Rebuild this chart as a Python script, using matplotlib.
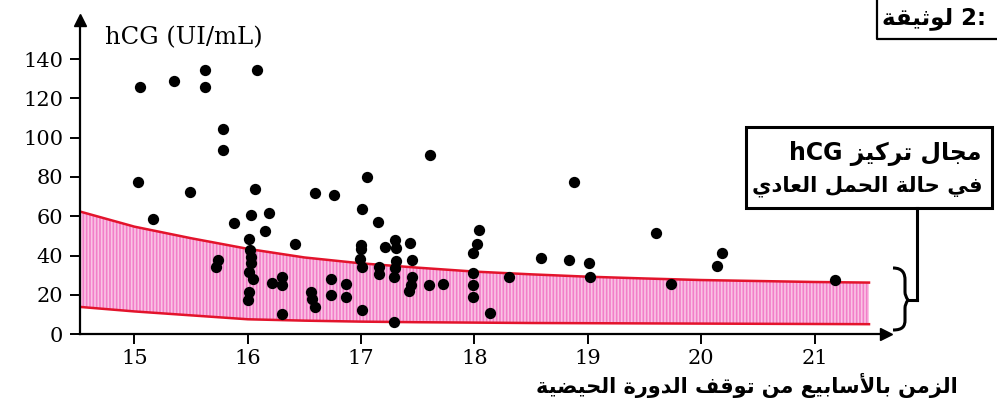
import matplotlib
matplotlib.use("Agg")
import matplotlib.pyplot as plt
from matplotlib.patches import Rectangle, PathPatch
from matplotlib.path import Path
from matplotlib.lines import Line2D

# ---------------- data ----------------
weeks = [15.05, 15.35, 15.62, 15.62, 15.78, 15.78, 16.08, 15.03, 15.49, 16.06,
         16.59, 16.76, 15.16, 15.88, 16.03, 16.19, 16.15, 16.42, 16.01, 16.02,
         16.03, 16.03, 16.01, 16.05, 15.74, 15.72, 16.21, 16.30, 16.30, 16.01,
         16.00, 16.30, 16.56, 16.57, 16.59, 16.73, 16.73, 16.87, 16.87, 17.05,
         17.01, 17.15, 17.61, 18.88, 17.00, 17.00, 17.21, 17.30, 17.31, 17.43,
         16.99, 17.01, 17.16, 17.16, 17.31, 17.30, 17.29, 17.45, 17.45, 17.44,
         17.42, 17.60, 17.72, 17.01, 17.29, 18.04, 18.02, 17.99, 17.99, 17.99,
         17.99, 18.30, 18.14, 18.59, 18.83, 19.01, 19.02, 19.60, 19.73, 20.18,
         20.14, 21.18]
hcg = [125.7, 128.7, 134.3, 125.9, 104.4, 93.7, 134.7, 77.2, 72.3, 74.0,
       72.1, 70.6, 58.7, 56.5, 60.4, 61.6, 52.6, 45.9, 48.3, 42.9,
       39.4, 36.1, 31.8, 28.1, 37.8, 34.0, 26.2, 29.2, 25.0, 21.3,
       17.3, 10.2, 21.6, 17.9, 13.6, 28.1, 19.9, 25.5, 19.0, 80.0,
       63.8, 57.0, 91.0, 77.2, 45.4, 43.2, 44.2, 48.0, 43.7, 46.3,
       38.1, 34.0, 34.0, 30.5, 37.2, 33.5, 29.2, 37.8, 28.9, 25.0,
       21.9, 25.0, 25.4, 12.2, 6.3, 53.0, 45.8, 41.2, 31.3, 25.0,
       18.7, 29.2, 10.5, 38.5, 37.8, 36.0, 28.9, 51.7, 25.5, 41.2,
       34.7, 27.6]

band_weeks = [14.52, 15.0, 15.5, 16.0, 16.5, 17.0, 17.5, 18.0, 18.5, 19.0,
              19.5, 20.0, 20.5, 21.0, 21.48]
band_upper = [62.4, 54.7, 48.8, 43.4, 39.0, 36.0, 33.8, 31.8, 30.4, 29.2,
              28.3, 27.5, 27.0, 26.5, 26.2]
band_lower = [13.8, 11.5, 9.5, 7.5, 6.8, 6.3, 6.0, 5.8, 5.6, 5.5,
              5.4, 5.3, 5.2, 5.1, 5.0]

x_ticks = [15, 16, 17, 18, 19, 20, 21]
y_ticks = [0, 20, 40, 60, 80, 100, 120, 140]

y_label = "hCG (UI/mL)"
x_label_ar = "الزمن بالأسابيع من توقف الدورة الحيضية"
legend_line1 = "مجال تركيز hCG"
legend_line2 = "في حالة الحمل العادي"
doc_label = "لوثيقة 2:"

# ---------------- minimal Arabic shaping (presentation forms) ----------------
FORMS = {
    '\u0627': ('\uFE8D', '\uFE8E', None, None),
    '\u0623': ('\uFE83', '\uFE84', None, None),
    '\u0628': ('\uFE8F', '\uFE90', '\uFE91', '\uFE92'),
    '\u0629': ('\uFE93', '\uFE94', None, None),
    '\u062A': ('\uFE95', '\uFE96', '\uFE97', '\uFE98'),
    '\u062B': ('\uFE99', '\uFE9A', '\uFE9B', '\uFE9C'),
    '\u062C': ('\uFE9D', '\uFE9E', '\uFE9F', '\uFEA0'),
    '\u062D': ('\uFEA1', '\uFEA2', '\uFEA3', '\uFEA4'),
    '\u062F': ('\uFEA9', '\uFEAA', None, None),
    '\u0631': ('\uFEAD', '\uFEAE', None, None),
    '\u0632': ('\uFEAF', '\uFEB0', None, None),
    '\u0633': ('\uFEB1', '\uFEB2', '\uFEB3', '\uFEB4'),
    '\u0636': ('\uFEBD', '\uFEBE', '\uFEBF', '\uFEC0'),
    '\u0639': ('\uFEC9', '\uFECA', '\uFECB', '\uFECC'),
    '\u0641': ('\uFED1', '\uFED2', '\uFED3', '\uFED4'),
    '\u0642': ('\uFED5', '\uFED6', '\uFED7', '\uFED8'),
    '\u0643': ('\uFED9', '\uFEDA', '\uFEDB', '\uFEDC'),
    '\u0644': ('\uFEDD', '\uFEDE', '\uFEDF', '\uFEE0'),
    '\u0645': ('\uFEE1', '\uFEE2', '\uFEE3', '\uFEE4'),
    '\u0646': ('\uFEE5', '\uFEE6', '\uFEE7', '\uFEE8'),
    '\u0647': ('\uFEE9', '\uFEEA', '\uFEEB', '\uFEEC'),
    '\u0648': ('\uFEED', '\uFEEE', None, None),
    '\u064A': ('\uFEF1', '\uFEF2', '\uFEF3', '\uFEF4'),
    'LA': ('\uFEFB', '\uFEFC', None, None),
    'LAH': ('\uFEF7', '\uFEF8', None, None),
}


def shape_word(w):
    toks = []
    i = 0
    while i < len(w):
        c = w[i]
        if c == '\u0644' and i + 1 < len(w) and w[i + 1] in ('\u0627', '\u0623'):
            toks.append('LA' if w[i + 1] == '\u0627' else 'LAH')
            i += 2
        else:
            toks.append(c)
            i += 1
    out = []
    for k, t in enumerate(toks):
        f = FORMS.get(t)
        if f is None:
            out.append(t)
            continue
        prev = FORMS.get(toks[k - 1]) if k > 0 else None
        nxt = FORMS.get(toks[k + 1]) if k + 1 < len(toks) else None
        jp = prev is not None and prev[2] is not None
        jn = nxt is not None and f[2] is not None
        if jp and jn:
            g = f[3]
        elif jp:
            g = f[1]
        elif jn:
            g = f[2]
        else:
            g = f[0]
        out.append(g)
    return ''.join(out)


def ar(text, rtl=True):
    vis = []
    for w in text.split(' '):
        if any('\u0600' <= c <= '\u06FF' for c in w):
            vis.append(shape_word(w)[::-1])
        else:
            vis.append(w)
    if rtl:
        vis = vis[::-1]
    return ' '.join(vis)


# ---------------- figure ----------------
W, H = 997, 405
fig = plt.figure(figsize=(W / 100, H / 100), dpi=100)
fig.patch.set_facecolor('white')


def fx(x):
    return x / W


def fy(y):
    return 1 - y / H


ax = fig.add_axes([fx(80), fy(334), (886 - 80) / W, (334 - 20) / H])
ax.set_xlim(14.52, 21.63)
ax.set_ylim(0, 160)

plt.rcParams['hatch.linewidth'] = 1.2
ax.fill_between(band_weeks, band_lower, band_upper, facecolor='#f27ec9',
                edgecolor='#fac4e4', hatch='|||||', linewidth=0, zorder=1)
ax.plot(band_weeks, band_upper, color='#e3142c', lw=1.8, zorder=2)
ax.plot(band_weeks, band_lower, color='#e3142c', lw=1.8, zorder=2)

ax.scatter(weeks, hcg, s=66, color='black', zorder=3, linewidths=0)

for s in ['top', 'right']:
    ax.spines[s].set_visible(False)
for s in ['left', 'bottom']:
    ax.spines[s].set_linewidth(1.6)
    ax.spines[s].set_color('black')
ax.plot(0, 1, marker='^', color='black', markersize=8, transform=ax.transAxes,
        clip_on=False, zorder=5)
ax.plot(1, 0, marker='>', color='black', markersize=8, transform=ax.transAxes,
        clip_on=False, zorder=5)

serif = 'DejaVu Serif'
ax.set_xticks(x_ticks)
ax.set_xticklabels([str(t) for t in x_ticks], fontfamily=serif, fontsize=15)
ax.set_yticks(y_ticks)
ax.set_yticklabels([str(t) for t in y_ticks], fontfamily=serif, fontsize=15)
ax.tick_params(axis='y', direction='out', length=7, width=1.4, pad=5, colors='black')
ax.tick_params(axis='x', direction='out', length=7, width=1.4, pad=4, colors='black')

fig.text(fx(105), fy(38), y_label, fontfamily=serif, fontsize=17.5,
         ha='left', va='center')

arfont = ['DejaVu Sans', 'DejaVu Sans']
fig.text(fx(958), fy(385), ar(x_label_ar), fontfamily=arfont, fontweight='bold',
         fontsize=15, ha='right', va='center')

# legend box
fig.add_artist(Rectangle((fx(746), fy(208)), (992 - 746) / W, (208 - 127) / H,
                         transform=fig.transFigure, facecolor='white',
                         edgecolor='black', linewidth=2.2))
fig.text(fx(981), fy(153), ar(legend_line1), fontfamily=arfont, fontweight='bold',
         fontsize=17, ha='right', va='center')
fig.text(fx(983), fy(186), ar(legend_line2), fontfamily=arfont, fontweight='bold',
         fontsize=15.3, ha='right', va='center')

# connector line and brace
fig.add_artist(Line2D([fx(917), fx(917)], [fy(208), fy(300)],
                      transform=fig.transFigure, color='black', lw=2.2))
fig.add_artist(Line2D([fx(908), fx(917)], [fy(300), fy(300)],
                      transform=fig.transFigure, color='black', lw=2.2))
brace_pts = [(893, 268), (903, 268), (905, 274), (905, 280),
             (905, 292), (905, 296), (908, 300),
             (905, 304), (905, 308), (905, 320),
             (905, 326), (903, 330), (893, 330)]
codes = [Path.MOVETO, Path.CURVE4, Path.CURVE4, Path.CURVE4,
         Path.LINETO, Path.CURVE3, Path.CURVE3,
         Path.CURVE3, Path.CURVE3, Path.LINETO,
         Path.CURVE4, Path.CURVE4, Path.CURVE4]
brace = Path([(fx(x), fy(y)) for x, y in brace_pts], codes)
fig.add_artist(PathPatch(brace, transform=fig.transFigure, facecolor='none',
                         edgecolor='black', lw=2.2))

# top-right document label
fig.add_artist(Line2D([fx(877), fx(877), fx(997)], [fy(0), fy(39), fy(39)],
                      transform=fig.transFigure, color='black', lw=1.6))
fig.text(fx(882), fy(18), ar(doc_label, rtl=False), fontfamily=arfont,
         fontweight='bold', fontsize=16.5, ha='left', va='center')

fig.savefig('out.png', dpi=100)
